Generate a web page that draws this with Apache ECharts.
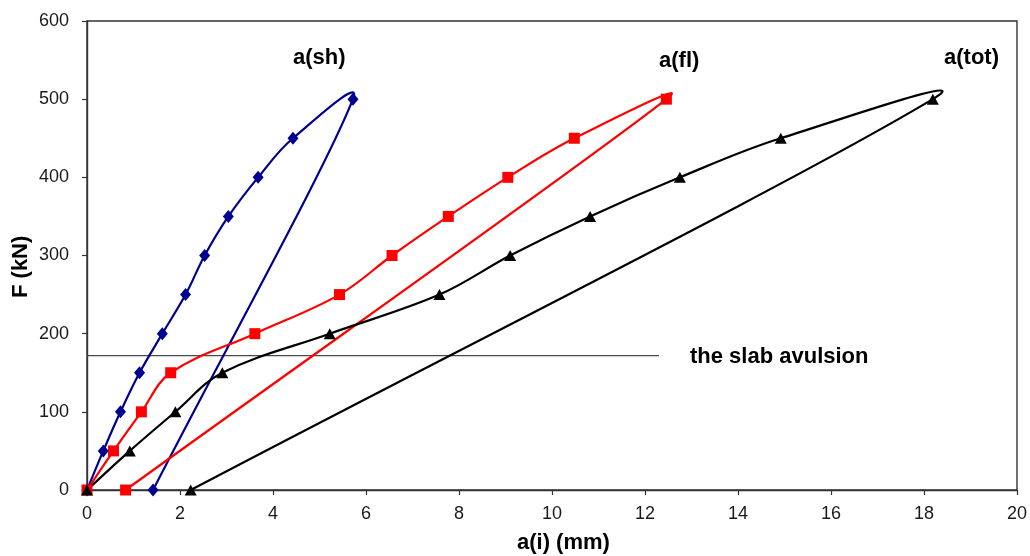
<!DOCTYPE html>
<html>
<head>
<meta charset="utf-8">
<script src="https://cdn.jsdelivr.net/npm/echarts@6/dist/echarts.min.js"></script>
<style>
  html, body { margin: 0; padding: 0; background: #ffffff; }
  #chart { width: 1030px; height: 556px; }
</style>
</head>
<body>
<div id="chart"></div>
<script>
// Load F (kN) applied in each step: loading up to 500 kN, then unloading to 0
const forceSh  = [0, 50, 100, 150, 200, 250, 300, 350, 400, 450, 500, 0];
const forceFl  = [0, 50, 100, 150, 200, 250, 300, 350, 400, 450, 500, 0];
const forceTot = [0, 50, 100, 150, 200, 250, 300, 350, 400, 450, 500, 0];

// Displacements a(i) (mm) measured at each load step
const aSh  = [0, 0.35, 0.72, 1.13, 1.62, 2.12, 2.53, 3.04, 3.68, 4.43, 5.72, 1.42];
const aFl  = [0, 0.57, 1.17, 1.80, 3.61, 5.43, 6.56, 7.77, 9.05, 10.48, 12.46, 0.83];
const aTot = [0, 0.92, 1.90, 2.91, 5.22, 7.58, 9.10, 10.82, 12.75, 14.92, 18.19, 2.23];

// Load level at which the slab avulsion occurred, and the span of its marker line
const slabForce = 172;
const slabSpan = [0, 12.3];

// Axis ranges
const xRange = [0, 20], xStep = 2;
const yRange = [0, 600], yStep = 100;

const FONT = '"Liberation Sans", Arial, sans-serif';

// Bezier path through the points; tangents are parallel to the neighbour chord,
// and a handle never grows past a few times the length of the segment behind it
function smoothPath(pts, k, cap) {
  const n = pts.length;
  const dist = (a, b) => Math.hypot(b[0] - a[0], b[1] - a[1]);
  const tan = pts.map((p, i) => {
    const prev = pts[Math.max(i - 1, 0)];
    const next = pts[Math.min(i + 1, n - 1)];
    const vx = next[0] - prev[0], vy = next[1] - prev[1];
    const l = Math.hypot(vx, vy) || 1;
    return [vx / l, vy / l];
  });
  let d = 'M' + pts[0][0] + ',' + pts[0][1];
  for (let i = 0; i < n - 1; i++) {
    const p = pts[i], q = pts[i + 1];
    const len = dist(p, q);
    const before = i > 0 ? dist(pts[i - 1], p) : len;
    const after = i + 2 < n ? dist(q, pts[i + 2]) : len;
    const h1 = k * Math.min(len, cap * before);
    const h2 = k * Math.min(len, cap * after);
    const c1 = [p[0] + tan[i][0] * h1, p[1] + tan[i][1] * h1];
    const c2 = [q[0] - tan[i + 1][0] * h2, q[1] - tan[i + 1][1] * h2];
    d += ' C' + c1[0] + ',' + c1[1] + ' ' + c2[0] + ',' + c2[1] + ' ' + q[0] + ',' + q[1];
  }
  return d;
}

function curveSeries(name, xs, ys, color, z) {
  return {
    name: name,
    type: 'custom',
    coordinateSystem: 'cartesian2d',
    data: [[xs[0], ys[0]]],
    encode: { x: 0, y: 1 },
    z: z,
    silent: true,
    renderItem: function (params, api) {
      const pts = xs.map((x, i) => api.coord([x, ys[i]]));
      return {
        type: 'path',
        shape: { pathData: smoothPath(pts, 0.36, 3) },
        style: { fill: 'none', stroke: color, lineWidth: 2.2 }
      };
    }
  };
}

function markerSeries(name, xs, ys, color, symbol, size, z) {
  return {
    name: name,
    type: 'scatter',
    data: xs.map((x, i) => [x, ys[i]]),
    symbol: symbol,
    symbolSize: size,
    itemStyle: { color: color, opacity: 1 },
    z: z,
    silent: true
  };
}

const chart = echarts.init(document.getElementById('chart'), null, { renderer: 'canvas' });

chart.setOption({
  animation: false,
  backgroundColor: '#ffffff',
  grid: {
    left: 87, top: 21, right: 13, bottom: 66,
    show: true, borderColor: '#333333', borderWidth: 1.4, backgroundColor: 'transparent'
  },
  xAxis: {
    type: 'value',
    min: xRange[0], max: xRange[1], interval: xStep,
    splitLine: { show: false },
    axisLine: { onZero: false, lineStyle: { color: '#333333', width: 1.4 } },
    axisTick: { show: true, inside: false, length: 5, lineStyle: { color: '#333333', width: 1.2 } },
    axisLabel: { fontFamily: FONT, fontSize: 18, color: '#1a1a1a', margin: 15 }
  },
  yAxis: {
    type: 'value',
    min: yRange[0], max: yRange[1], interval: yStep,
    splitLine: { show: false },
    axisLine: { show: true, lineStyle: { color: '#333333', width: 1.4 } },
    axisTick: { show: true, inside: false, length: 5, lineStyle: { color: '#333333', width: 1.2 } },
    axisLabel: { fontFamily: FONT, fontSize: 18, color: '#1a1a1a', margin: 18 }
  },
  series: [
    {
      name: 'slab avulsion',
      type: 'line',
      data: slabSpan.map(x => [x, slabForce]),
      symbol: 'none',
      lineStyle: { color: '#4a4a4a', width: 1.3 },
      z: 1,
      silent: true
    },
    curveSeries('a(sh)', aSh, forceSh, '#000090', 2),
    curveSeries('a(fl)', aFl, forceFl, '#ff0000', 3),
    curveSeries('a(tot)', aTot, forceTot, '#000000', 4),
    markerSeries('a(sh) points', aSh, forceSh, '#000090', 'diamond', [11, 13], 5),
    markerSeries('a(fl) points', aFl, forceFl, '#ff0000', 'rect', [11, 11], 6),
    markerSeries('a(tot) points', aTot, forceTot, '#000000', 'triangle', [12, 11], 7)
  ],
  graphic: [
    { type: 'text', left: 293, top: 47, style: { text: 'a(sh)', font: 'bold 22px ' + FONT, fill: '#000' } },
    { type: 'text', left: 659, top: 50, style: { text: 'a(fl)', font: 'bold 22px ' + FONT, fill: '#000' } },
    { type: 'text', left: 944, top: 47, style: { text: 'a(tot)', font: 'bold 22px ' + FONT, fill: '#000' } },
    { type: 'text', left: 690, top: 346, style: { text: 'the slab avulsion', font: 'bold 22px ' + FONT, fill: '#000' } },
    { type: 'text', left: 517, top: 532, style: { text: 'a(i) (mm)', font: 'bold 22px ' + FONT, fill: '#000' } },
    { type: 'text', x: 10, y: 298, rotation: Math.PI / 2, style: { text: 'F (kN)', font: 'bold 22px ' + FONT, fill: '#000' } }
  ]
});
</script>
</body>
</html>
